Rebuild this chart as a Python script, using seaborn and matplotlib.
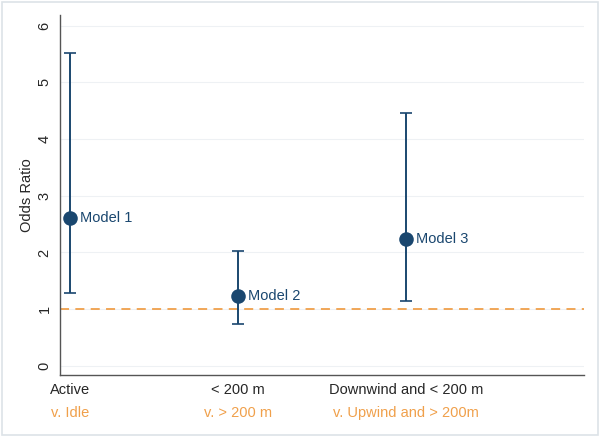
import pandas as pd
import matplotlib.pyplot as plt
import matplotlib.transforms as mtransforms
import seaborn as sns

# Data
categories = ['Active', '< 200 m', 'Downwind and < 200 m']
comparisons = ['v. Idle', 'v. > 200 m', 'v. Upwind and > 200m']
models = ['Model 1', 'Model 2', 'Model 3']
odds_ratio = [2.6, 1.24, 2.24]
ci_low = [1.28, 0.73, 1.15]
ci_high = [5.52, 2.03, 4.46]

navy = '#1a476f'
orange = '#f0a04b'

df = pd.DataFrame({'pos': [1, 2, 3], 'OR': odds_ratio,
                   'lo': ci_low, 'hi': ci_high, 'model': models})

sns.set_style('white')
plt.rcParams['font.family'] = ['Liberation Sans', 'DejaVu Sans']

fig = plt.figure(figsize=(6, 4.37), dpi=100)
ax = fig.add_axes([0.1, 0.142, 0.873, 0.824])

# reference line at OR = 1
ax.axhline(1, color=orange, linestyle=(0, (5, 3.5)), linewidth=1.3, zorder=1)

# confidence intervals
ax.errorbar(df['pos'], df['OR'],
            yerr=[df['OR'] - df['lo'], df['hi'] - df['OR']],
            fmt='none', ecolor=navy, elinewidth=1.4, capsize=4.5, capthick=1.2, zorder=2)

sns.scatterplot(data=df, x='pos', y='OR', color=navy, s=110, edgecolor=navy,
                linewidth=0, zorder=3, ax=ax)

for _, r in df.iterrows():
    ax.annotate(r['model'], (r['pos'], r['OR']), xytext=(7, 0), textcoords='offset points',
                va='center', ha='left', color=navy, fontsize=10.5)

ax.set_xlim(0.94, 4.06)
ax.set_ylim(-0.16, 6.19)
ax.set_yticks(range(0, 7))
ax.set_yticklabels([str(v) for v in range(0, 7)], rotation=90, va='center', fontsize=10.5)
ax.set_ylabel('Odds Ratio', fontsize=10.5, labelpad=3)
ax.set_xlabel('')
ax.grid(axis='y', color='#eef1f4', linewidth=0.8)
ax.set_axisbelow(True)

ax.set_xticks(df['pos'])
ax.set_xticklabels(categories, fontsize=10.5)
ax.tick_params(axis='both', direction='out', length=4, width=0.8, color='#333333', pad=2)
for side in ['top', 'right']:
    ax.spines[side].set_visible(False)
for side in ['left', 'bottom']:
    ax.spines[side].set_color('#555555')
    ax.spines[side].set_linewidth(1.0)

# second line of the tick labels in orange
trans = mtransforms.blended_transform_factory(ax.transData, ax.transAxes)
for p, c in zip(df['pos'], comparisons):
    ax.annotate(c, (p, 0), xycoords=trans, xytext=(0, -22), textcoords='offset points',
                ha='center', va='top', color=orange, fontsize=10.5)

# light frame around the picture
fig.patches.append(plt.Rectangle((0.004, 0.005), 0.992, 0.99, transform=fig.transFigure,
                                 fill=False, edgecolor='#dde3e8', linewidth=1.2))

fig.savefig('out.png', dpi=100)
